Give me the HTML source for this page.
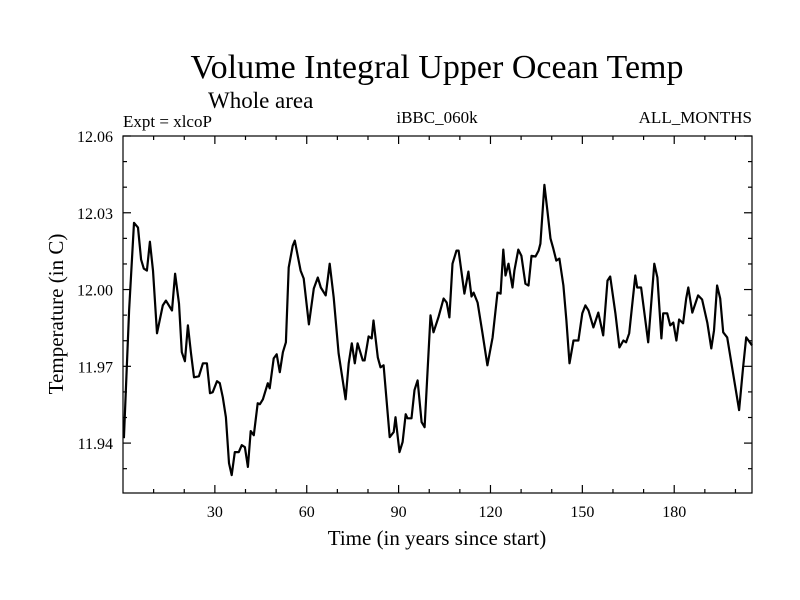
<!DOCTYPE html>
<html><head><meta charset="utf-8"><style>
html,body{margin:0;padding:0;background:#fff;}
svg{display:block;font-family:"Liberation Serif",serif;}
</style></head><body>
<svg id="chart" width="800" height="600" viewBox="0 0 800 600">
<rect width="800" height="600" fill="#fff"/>
<text x="437" y="78" font-size="34" text-anchor="middle">Volume Integral Upper Ocean Temp</text>
<text x="208" y="108" font-size="23">Whole area</text>
<text x="123" y="127" font-size="17">Expt = xlcoP</text>
<text x="437" y="123" font-size="17" text-anchor="middle">iBBC_060k</text>
<text x="752" y="123" font-size="17" text-anchor="end">ALL_MONTHS</text>
<text x="437" y="545" font-size="21" text-anchor="middle">Time (in years since start)</text>
<text transform="translate(63,314) rotate(-90)" font-size="21" text-anchor="middle">Temperature (in C)</text>
<g id="axes"></g>
<path id="series" fill="none" stroke="#000" stroke-width="2.2" stroke-linejoin="round"/>
<rect x="123" y="136" width="629" height="357" fill="none" stroke="#000" stroke-width="1.2"/>
</svg>
<script>
const years = [0.3,2.0,3.6,4.9,5.9,6.8,7.8,8.8,9.8,11.1,13.0,14.0,16.0,17.0,18.3,19.2,20.2,21.2,22.2,23.2,24.8,26.1,27.4,28.4,29.3,30.7,31.6,32.6,33.6,34.6,35.5,36.5,37.8,38.8,39.8,40.8,41.7,42.7,44.0,44.7,45.7,47.3,47.9,49.2,50.2,51.2,52.2,53.2,54.1,55.4,56.1,58.0,59.0,60.7,62.3,63.6,64.6,66.2,67.5,68.8,70.4,72.7,73.7,74.7,75.7,76.6,78.3,78.9,80.2,81.2,81.8,83.2,84.1,85.1,87.1,88.4,89.0,90.3,91.3,92.3,92.9,94.2,95.2,96.2,97.5,98.5,100.4,101.4,103.0,104.7,105.7,106.6,107.6,108.9,109.6,111.5,112.8,113.8,114.5,115.8,117.4,119.0,120.7,122.3,123.3,124.2,124.9,125.9,127.2,127.8,129.1,130.1,131.4,132.4,133.4,134.7,135.7,136.3,137.6,138.6,139.6,140.5,141.5,142.5,143.8,144.8,145.8,147.1,148.7,150.0,151.0,152.0,153.6,155.2,156.8,158.2,159.1,160.8,162.1,163.4,164.3,165.3,167.3,167.9,169.2,171.5,173.5,174.5,175.8,176.4,177.7,178.7,179.7,180.7,181.6,182.9,183.9,184.6,185.9,187.8,189.1,190.8,192.1,193.0,194.0,195.0,196.0,197.3,201.2,202.5,203.5,205.4];
const temps = [11.9419,11.9918,12.0261,12.0242,12.0117,12.0082,12.0074,12.0187,12.0074,11.9829,11.9938,11.9957,11.9918,12.0062,11.9945,11.9755,11.9720,11.9860,11.9751,11.9657,11.9661,11.9712,11.9712,11.9595,11.9599,11.9642,11.9634,11.9579,11.9501,11.9322,11.9275,11.9365,11.9365,11.9392,11.9384,11.9307,11.9447,11.9431,11.9556,11.9552,11.9571,11.9634,11.9614,11.9731,11.9747,11.9677,11.9755,11.9794,12.0086,12.0171,12.0191,12.0074,12.0043,11.9864,12.0004,12.0047,12.0008,11.9977,12.0101,11.9969,11.9751,11.9571,11.9712,11.9790,11.9712,11.9790,11.9723,11.9723,11.9817,11.9809,11.9879,11.9735,11.9696,11.9704,11.9423,11.9443,11.9501,11.9365,11.9404,11.9513,11.9497,11.9497,11.9607,11.9645,11.9482,11.9462,11.9899,11.9833,11.9891,11.9965,11.9949,11.9891,12.0101,12.0152,12.0152,11.9984,12.0070,11.9973,11.9988,11.9949,11.9829,11.9704,11.9813,11.9988,11.9984,12.0156,12.0055,12.0101,12.0008,12.0074,12.0156,12.0132,12.0023,12.0016,12.0132,12.0129,12.0152,12.0179,12.0409,12.0308,12.0199,12.0160,12.0113,12.0121,12.0016,11.9879,11.9712,11.9801,11.9801,11.9907,11.9938,11.9918,11.9852,11.9910,11.9821,12.0035,12.0051,11.9907,11.9774,11.9801,11.9794,11.9829,12.0055,12.0008,12.0008,11.9794,12.0101,12.0047,11.9809,11.9907,11.9907,11.9860,11.9871,11.9801,11.9883,11.9868,11.9965,12.0008,11.9910,11.9977,11.9961,11.9871,11.9770,11.9840,12.0016,11.9965,11.9833,11.9813,11.9529,11.9696,11.9813,11.9782];
const xTicks = [30,60,90,120,150,180];
const yTicks = [12.06,12.03,12.00,11.97,11.94];
const yTickLabels = ["12.06","12.03","12.00","11.97","11.94"];

const X0=123, X1=752, Y0=136, Y1=493;
const XMIN=0, XMAX=205.4, YMIN=11.9205, YMAX=12.06;
function sx(v){return X0+(v-XMIN)/(XMAX-XMIN)*(X1-X0);}
function sy(v){return Y1-(v-YMIN)/(YMAX-YMIN)*(Y1-Y0);}
const NS="http://www.w3.org/2000/svg";
const axes=document.getElementById('axes');
function line(x1,y1,x2,y2,name){
  const l=document.createElementNS(NS,'line');
  l.setAttribute('x1',x1);l.setAttribute('y1',y1);l.setAttribute('x2',x2);l.setAttribute('y2',y2);
  l.setAttribute('stroke','#000');l.setAttribute('stroke-width','1.2');
  
  
  axes.appendChild(l);
}
function text(x,y,s,anchor,name){
  const t=document.createElementNS(NS,'text');
  t.setAttribute('x',x);t.setAttribute('y',y);t.setAttribute('font-size','16');
  t.setAttribute('text-anchor',anchor);t.textContent=s;
  
  
  axes.appendChild(t);
}
// x minor ticks every 10
for(let v=10; v<=200; v+=10){
  const major = v%30===0;
  const L = major?8:4;
  const x=sx(v);
  line(x,Y1,x,Y1-L,'x-tick');
  line(x,Y0,x,Y0+L,'x-tick-top');
}
xTicks.forEach(v=>{ text(sx(v),Y1+24,String(v),'middle','x-tick-label'); });
// y ticks every 0.01
for(let k=0;k<=13;k++){
  const v=12.06-k*0.01;
  if(v<YMIN) break;
  const major = k%3===0;
  const L = major?8:4;
  const y=sy(v);
  line(X0,y,X0+L,y,'y-tick');
  line(X1,y,X1-L,y,'y-tick-right');
}
yTicks.forEach((v,i)=>{ text(X0-10,sy(v)+6,yTickLabels[i],'end','y-tick-label'); });
let d='';
years.forEach((yr,i)=>{ d+=(i?'L':'M')+sx(yr).toFixed(1)+','+sy(temps[i]).toFixed(1); });
document.getElementById('series').setAttribute('d',d);
</script>
</body></html>
